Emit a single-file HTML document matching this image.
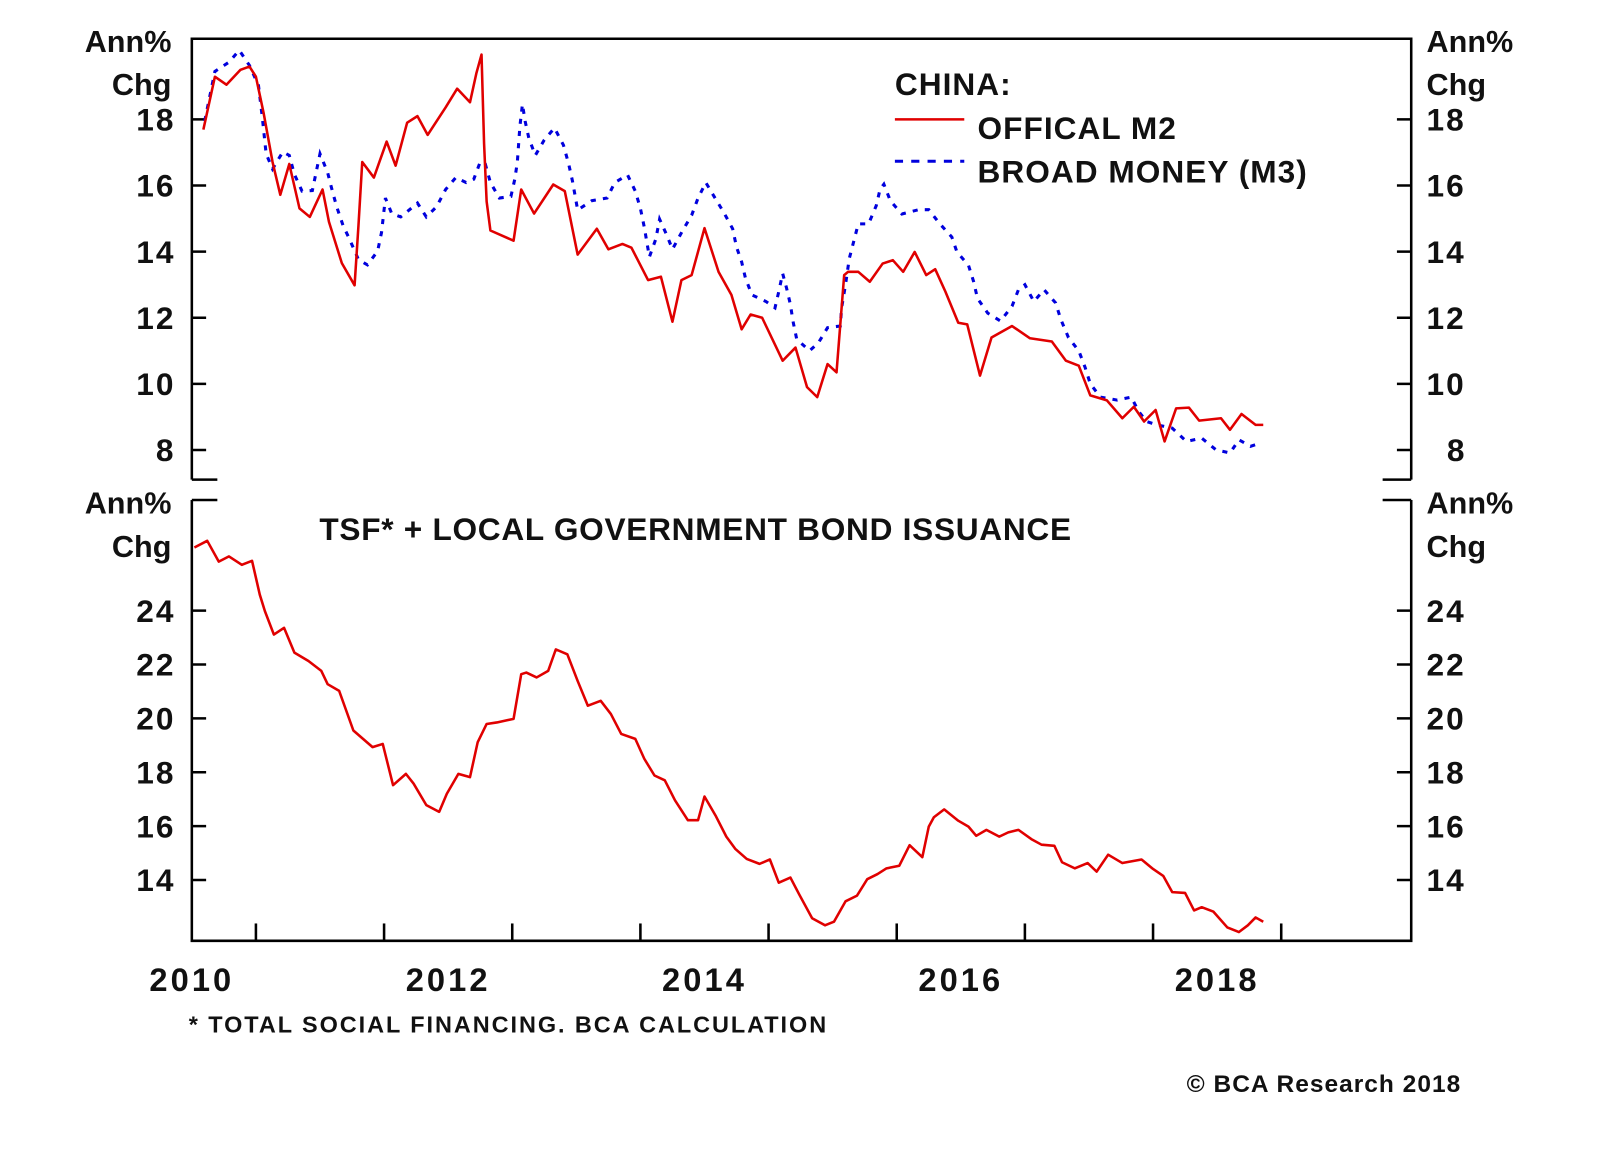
<!DOCTYPE html>
<html><head><meta charset="utf-8"><style>
html,body{margin:0;padding:0;background:#fff;}
svg{display:block;}
text{font-family:"Liberation Sans",Arial,sans-serif;font-weight:bold;fill:#111;}
</style></head><body>
<svg id="chart" width="1600" height="1152" viewBox="0 0 1600 1152"><g id="root" transform="scale(1.0204)"></g></svg>
<script>
// ---- data ----
const m2Years = [2010.09,2010.18,2010.27,2010.38,2010.45,2010.50,2010.56,2010.63,2010.69,2010.76,2010.84,2010.92,2011.02,2011.07,2011.17,2011.27,2011.30,2011.33,2011.42,2011.52,2011.59,2011.68,2011.76,2011.84,2011.98,2012.07,2012.17,2012.22,2012.26,2012.28,2012.30,2012.33,2012.51,2012.57,2012.67,2012.82,2012.91,2013.01,2013.16,2013.25,2013.36,2013.43,2013.56,2013.66,2013.75,2013.82,2013.90,2014.00,2014.11,2014.21,2014.29,2014.36,2014.45,2014.61,2014.71,2014.80,2014.88,2014.96,2015.03,2015.09,2015.12,2015.20,2015.29,2015.39,2015.47,2015.55,2015.64,2015.73,2015.80,2015.88,2015.98,2016.05,2016.15,2016.24,2016.40,2016.54,2016.71,2016.82,2016.92,2017.01,2017.14,2017.26,2017.35,2017.43,2017.52,2017.59,2017.68,2017.78,2017.86,2018.03,2018.10,2018.19,2018.30,2018.36];
const m2Values = [17.69,19.29,19.05,19.50,19.60,19.29,18.20,16.71,15.72,16.65,15.31,15.05,15.88,14.90,13.65,12.98,14.79,16.71,16.24,17.33,16.60,17.90,18.10,17.53,18.36,18.93,18.52,19.39,19.96,17.27,15.52,14.64,14.33,15.88,15.15,16.03,15.83,13.91,14.69,14.07,14.23,14.12,13.14,13.24,11.88,13.14,13.29,14.71,13.39,12.69,11.65,12.10,12.00,10.70,11.10,9.90,9.60,10.60,10.35,13.29,13.39,13.39,13.09,13.64,13.74,13.39,13.99,13.29,13.47,12.79,11.85,11.80,10.25,11.40,11.75,11.38,11.28,10.70,10.55,9.65,9.50,8.96,9.31,8.86,9.21,8.26,9.26,9.28,8.89,8.96,8.61,9.09,8.76,8.76];
const m3Years = [2010.10,2010.18,2010.29,2010.37,2010.45,2010.52,2010.55,2010.58,2010.63,2010.71,2010.76,2010.80,2010.86,2010.94,2011.00,2011.06,2011.09,2011.13,2011.18,2011.23,2011.30,2011.37,2011.45,2011.48,2011.51,2011.56,2011.63,2011.76,2011.83,2011.91,2011.98,2012.06,2012.14,2012.20,2012.25,2012.29,2012.33,2012.40,2012.49,2012.52,2012.54,2012.56,2012.58,2012.60,2012.63,2012.68,2012.75,2012.83,2012.90,2012.94,2012.97,2013.01,2013.12,2013.24,2013.30,2013.40,2013.46,2013.50,2013.53,2013.57,2013.62,2013.65,2013.71,2013.75,2013.83,2013.90,2013.95,2014.01,2014.08,2014.15,2014.22,2014.25,2014.29,2014.32,2014.37,2014.48,2014.55,2014.58,2014.61,2014.64,2014.67,2014.69,2014.72,2014.82,2014.89,2014.96,2015.06,2015.07,2015.10,2015.13,2015.20,2015.28,2015.34,2015.37,2015.40,2015.45,2015.54,2015.67,2015.75,2015.83,2015.93,2015.97,2016.06,2016.10,2016.13,2016.21,2016.31,2016.40,2016.45,2016.50,2016.57,2016.65,2016.74,2016.78,2016.84,2016.92,2016.97,2017.01,2017.09,2017.15,2017.22,2017.33,2017.39,2017.45,2017.53,2017.65,2017.76,2017.88,2017.99,2018.10,2018.17,2018.26,2018.34];
const m3Values = [17.95,19.45,19.73,20.09,19.63,19.03,18.05,16.96,16.50,17.02,16.91,16.34,15.83,15.85,16.96,16.39,15.93,15.36,14.79,14.38,13.76,13.60,14.02,14.58,15.62,15.15,15.05,15.47,15.05,15.36,15.88,16.24,16.09,16.19,16.71,16.65,16.09,15.62,15.67,16.19,16.71,17.79,18.46,17.95,17.43,16.91,17.38,17.74,17.22,16.65,16.14,15.26,15.54,15.62,16.09,16.32,15.83,15.31,14.74,13.84,14.38,14.98,14.46,14.07,14.64,15.10,15.62,16.09,15.64,15.19,14.69,14.14,13.69,13.19,12.69,12.49,12.30,12.79,13.34,12.90,12.40,11.90,11.35,11.00,11.25,11.70,11.75,12.30,13.00,13.79,14.84,14.84,15.39,15.89,16.04,15.54,15.14,15.27,15.27,14.87,14.44,13.99,13.59,13.09,12.59,12.14,11.90,12.35,12.85,13.00,12.49,12.85,12.45,11.95,11.40,11.00,10.50,10.00,9.60,9.56,9.51,9.60,9.15,8.86,8.76,8.66,8.26,8.36,8.01,7.91,8.31,8.11,8.21];
const tsfYears = [2010.02,2010.12,2010.21,2010.29,2010.39,2010.47,2010.53,2010.57,2010.64,2010.72,2010.80,2010.91,2011.01,2011.06,2011.15,2011.26,2011.41,2011.49,2011.57,2011.67,2011.73,2011.83,2011.93,2011.99,2012.08,2012.17,2012.23,2012.30,2012.38,2012.51,2012.57,2012.61,2012.69,2012.78,2012.84,2012.93,2013.01,2013.09,2013.19,2013.27,2013.35,2013.46,2013.53,2013.61,2013.69,2013.77,2013.87,2013.95,2014.00,2014.09,2014.17,2014.24,2014.33,2014.43,2014.51,2014.58,2014.67,2014.74,2014.84,2014.94,2015.01,2015.10,2015.19,2015.27,2015.35,2015.42,2015.52,2015.60,2015.70,2015.75,2015.79,2015.87,2015.98,2016.06,2016.12,2016.20,2016.30,2016.37,2016.45,2016.55,2016.63,2016.73,2016.79,2016.89,2016.99,2017.06,2017.15,2017.26,2017.41,2017.50,2017.58,2017.65,2017.75,2017.82,2017.88,2017.97,2018.08,2018.17,2018.24,2018.30,2018.36];
const tsfValues = [26.34,26.59,25.82,26.01,25.70,25.85,24.59,23.98,23.11,23.36,22.44,22.13,21.76,21.27,21.02,19.55,18.93,19.05,17.52,17.94,17.58,16.78,16.53,17.20,17.94,17.82,19.11,19.79,19.85,19.98,21.64,21.70,21.52,21.76,22.56,22.38,21.39,20.47,20.65,20.16,19.42,19.24,18.50,17.88,17.70,16.96,16.22,16.22,17.10,16.36,15.61,15.16,14.78,14.60,14.76,13.90,14.09,13.46,12.58,12.32,12.45,13.21,13.42,14.03,14.22,14.43,14.53,15.29,14.85,15.98,16.33,16.62,16.20,15.98,15.64,15.86,15.61,15.77,15.86,15.52,15.31,15.27,14.66,14.43,14.63,14.31,14.94,14.63,14.76,14.41,14.15,13.55,13.52,12.87,12.99,12.83,12.24,12.07,12.32,12.61,12.45];
const topTicks = [18,16,14,12,10,8];
const bottomTicks = [24,22,20,18,16,14];
const yearLabels = [2010,2012,2014,2016,2018];
const yearTicks = [2010.5,2011.5,2012.5,2013.5,2014.5,2015.5,2016.5,2017.5,2018.5];

// ---- scales ----
const L = 188, R = 1383;
function xs(y){ return L + (y - 2010) * 125.6; }
function yTop(v){ return 117 + (18 - v) * 32.4; }
function yBot(v){ return 598.4 + (24 - v) * 26.4; }

const root = document.getElementById('root');
const NS = 'http://www.w3.org/2000/svg';
function mk(tag, attrs){
  const e = document.createElementNS(NS, tag);
  for (const k in attrs) e.setAttribute(k, attrs[k]);
  root.appendChild(e);
  return e;
}
function txt(s, x, y, size, anchor, name, ls){
  const t = mk('text', {x:x, y:y, 'font-size':size, 'text-anchor':anchor||'start', 'letter-spacing':ls||0});
  t.textContent = s;
  
  
  return t;
}
const ax = {stroke:'#000','stroke-width':2.5,fill:'none'};

let f = mk('path', Object.assign({d:`M${L},470 L${L},38 L${R},38 L${R},470 M${L},470 L213,470 M${R},470 L1355,470`}, ax));


f = mk('path', Object.assign({d:`M${L},490 L${L},922 L${R},922 L${R},490 M${L},490 L213,490 M${R},490 L1355,490`}, ax));



topTicks.forEach(v => {
  const y = yTop(v);
  const t = mk('path', Object.assign({d:`M${L},${y} L${L+14},${y} M${R},${y} L${R-14},${y}`}, ax));
  
  
  txt(String(v), 172, y + 11, 31, 'end', 'top-left-y-label', 2);
  txt(String(v), 1398 + (v < 10 ? 20 : 0), y + 11, 31, 'start', 'top-right-y-label', 2);
});
bottomTicks.forEach(v => {
  const y = yBot(v);
  const t = mk('path', Object.assign({d:`M${L},${y} L${L+14},${y} M${R},${y} L${R-14},${y}`}, ax));
  
  
  txt(String(v), 172, y + 11, 31, 'end', 'bottom-left-y-label', 2);
  txt(String(v), 1398, y + 11, 31, 'start', 'bottom-right-y-label', 2);
});
yearTicks.forEach(yr => {
  const x = xs(yr);
  const t = mk('path', Object.assign({d:`M${x},922 L${x},905`}, ax));
  
  
});
yearLabels.forEach(yr => txt(String(yr), xs(yr), 971, 32, 'middle', 'x-axis-year-label', 3));

txt('Ann%', 168, 51, 30, 'end', 'top-left-unit');
txt('Chg', 168, 93, 30, 'end', 'top-left-unit-chg');
txt('Ann%', 1398, 51, 30, 'start', 'top-right-unit');
txt('Chg', 1398, 93, 30, 'start', 'top-right-unit-chg');
txt('Ann%', 168, 503, 30, 'end', 'bottom-left-unit');
txt('Chg', 168, 546, 30, 'end', 'bottom-left-unit-chg');
txt('Ann%', 1398, 503, 30, 'start', 'bottom-right-unit');
txt('Chg', 1398, 546, 30, 'start', 'bottom-right-unit-chg');

txt('CHINA:', 877, 93, 31, 'start', 'legend-title', 1);
let lg = mk('line', {x1:877, y1:117, x2:945, y2:117, stroke:'#e00000', 'stroke-width':2.5});


txt('OFFICAL M2', 958, 136, 31, 'start', 'legend-m2-label', 1);
lg = mk('line', {x1:877, y1:158, x2:945, y2:158, stroke:'#0000dd', 'stroke-width':3, 'stroke-dasharray':'8 8'});


txt('BROAD MONEY (M3)', 958, 179, 31, 'start', 'legend-m3-label', 1);

txt('TSF* + LOCAL GOVERNMENT BOND ISSUANCE', 313, 529, 31, 'start', 'bottom-panel-title', 0.7);
txt('* TOTAL  SOCIAL  FINANCING.  BCA  CALCULATION', 185, 1012, 23, 'start', 'footnote', 1.9);
txt('© BCA Research 2018', 1432, 1070, 24, 'end', 'copyright', 1);

function poly(xsArr, vs, yf){
  return xsArr.map((yr,i) => (i?'L':'M') + xs(yr).toFixed(1) + ',' + yf(vs[i]).toFixed(1)).join(' ');
}
let s = mk('path', {d:poly(m3Years, m3Values, yTop), stroke:'#0000dd', 'stroke-width':3, fill:'none', 'stroke-dasharray':'5 7'});


s = mk('path', {d:poly(m2Years, m2Values, yTop), stroke:'#e00000', 'stroke-width':2.5, fill:'none', 'stroke-linejoin':'round'});


s = mk('path', {d:poly(tsfYears, tsfValues, yBot), stroke:'#e00000', 'stroke-width':2.5, fill:'none', 'stroke-linejoin':'round'});


</script>
</body></html>
